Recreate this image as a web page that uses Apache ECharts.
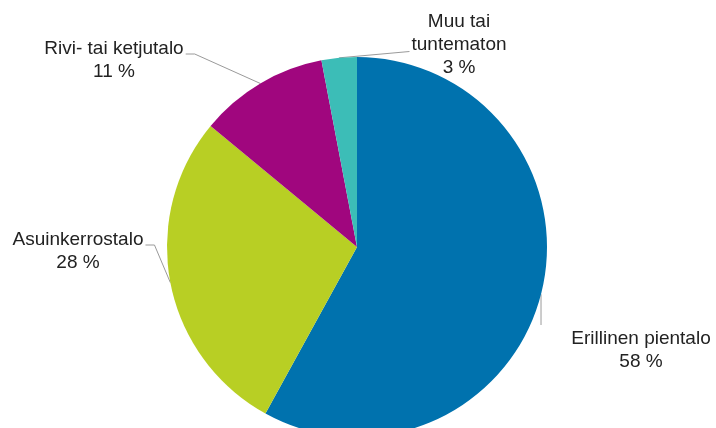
<!DOCTYPE html>
<html>
<head>
<meta charset="utf-8">
<script src="https://cdn.jsdelivr.net/npm/echarts@6/dist/echarts.min.js"></script>
<style>
html,body{margin:0;padding:0;background:#fff;}
#chart{width:716px;height:428px;}
</style>
</head>
<body>
<div id="chart"></div>
<script>
// Data
const categories = ['Erillinen pientalo', 'Asuinkerrostalo', 'Rivi- tai ketjutalo', 'Muu tai\ntuntematon'];
const shares = [58, 28, 11, 3];
const colors = ['#0072ae', '#b8cf24', '#a0067e', '#3cbdb7'];

// Label layout (centres of label boxes)
const labelCentres = [[641, 350], [78, 251], [114, 60], [459, 45]];

const chart = echarts.init(document.getElementById('chart'), null, {renderer: 'canvas'});

function guide(i, a, rect) {
  if (i === 0) return [a, [a[0], rect.y - 2]];
  if (i === 1 || i === 2) {
    const end = [rect.x + rect.width + 2, rect.y + 17];
    return [a, [end[0] + 9, end[1]], end];
  }
  return [a, [rect.x - 2, rect.y + 41]];
}

chart.setOption({
  animation: false,
  backgroundColor: '#ffffff',
  series: [{
    type: 'pie',
    center: [357, 247],
    radius: 190,
    startAngle: 90,
    clockwise: true,
    avoidLabelOverlap: false,
    data: categories.map((c, i) => ({name: c, value: shares[i], itemStyle: {color: colors[i]}})),
    itemStyle: {borderWidth: 0},
    label: {
      show: true,
      position: 'outside',
      formatter: '{b}\n{c} %',
      fontFamily: 'Liberation Sans, Arial, sans-serif',
      fontSize: 19,
      lineHeight: 23,
      color: '#222222',
      align: 'center'
    },
    labelLine: {
      show: true,
      length: 15,
      length2: 10,
      lineStyle: {color: '#9a9a9a', width: 1}
    },
    emphasis: {disabled: true},
    labelLayout: function (p) {
      const i = p.dataIndex;
      const c = labelCentres[i];
      const w = p.labelRect.width, h = p.labelRect.height;
      const rect = {x: c[0] - w / 2, y: c[1] - h / 2, width: w, height: h};
      const a = p.labelLinePoints ? p.labelLinePoints[0] : [c[0], c[1]];
      return {
        x: c[0],
        y: c[1],
        align: 'center',
        verticalAlign: 'middle',
        labelLinePoints: guide(i, a, rect)
      };
    }
  }]
});
</script>
</body>
</html>
